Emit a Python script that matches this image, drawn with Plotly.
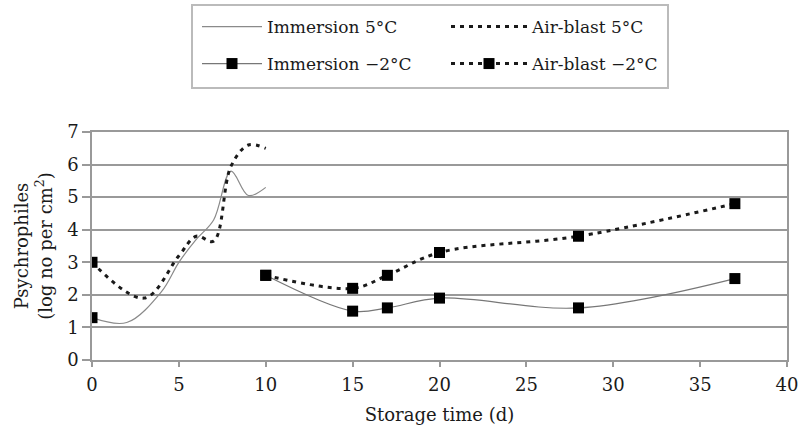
import plotly.graph_objects as go

# Data
days_warm = [0, 2, 4, 5, 6, 7, 8, 9, 10]
imm_5 = [1.3, 1.15, 2.1, 3.0, 3.7, 4.3, 5.8, 5.05, 5.3]

days_air_warm = [0, 3, 5, 6, 7, 8, 9, 10]
air_5 = [3.0, 1.9, 3.2, 3.8, 3.65, 5.95, 6.6, 6.5]

days_cold = [0, 5, 10, 15, 17, 20, 28, 37]
imm_m2 = [1.3, None, 2.6, 1.5, 1.6, 1.9, 1.6, 2.5]
air_m2 = [3.0, None, 2.6, 2.2, 2.6, 3.3, 3.8, 4.8]

x_ticks = [0, 5, 10, 15, 20, 25, 30, 35, 40]
y_ticks = [0, 1, 2, 3, 4, 5, 6, 7]

FONT = "DejaVu Serif"
FS = 18
LFS = 17
TXT = "#1a1a1a"

fig = go.Figure()

fig.add_trace(go.Scatter(
    x=days_warm, y=imm_5, mode="lines", name="Immersion 5°C",
    line=dict(color="#8a8a8a", width=1.2, shape="spline"),
    legend="legend",
))
fig.add_trace(go.Scatter(
    x=days_air_warm, y=air_5, mode="lines", name="Air-blast 5°C",
    line=dict(color="#1a1a1a", width=3, dash="4px,5px", shape="spline"),
    legend="legend2",
))
fig.add_trace(go.Scatter(
    x=days_cold, y=imm_m2, mode="lines+markers", name="Immersion \u22122°C",
    line=dict(color="#777777", width=1.2, shape="spline"),
    marker=dict(symbol="square", size=11, color="#000000"),
    legend="legend3",
))
fig.add_trace(go.Scatter(
    x=days_cold, y=air_m2, mode="lines+markers", name="Air-blast \u22122°C",
    line=dict(color="#1a1a1a", width=3, dash="4px,5px", shape="spline"),
    marker=dict(symbol="square", size=11, color="#000000"),
    legend="legend4",
))

PL, PW, PT, PH = 92, 695, 132, 228


def px_x(p):
    return (p - PL) / PW


def px_y(p):
    return (PT + PH - p) / PH


def leg(xpx, ypx, iw):
    return dict(
        orientation="h", xanchor="left", yanchor="middle",
        x=px_x(xpx), y=px_y(ypx),
        font=dict(family=FONT, size=LFS, color=TXT),
        bgcolor="rgba(0,0,0,0)", borderwidth=0,
        itemwidth=iw, itemclick=False, itemdoubleclick=False,
    )


fig.update_layout(
    width=811, height=432,
    margin=dict(l=PL, r=811 - PL - PW, t=PT, b=432 - PT - PH, autoexpand=False),
    paper_bgcolor="white", plot_bgcolor="white",
    font=dict(family=FONT, size=FS, color=TXT),
    showlegend=True,
    legend=leg(197, 27, 60),
    legend2=leg(446, 27, 76),
    legend3=leg(197, 64, 60),
    legend4=leg(446, 64, 76),
    shapes=[dict(type="rect", xref="paper", yref="paper",
                 x0=px_x(192), x1=px_x(668), y0=px_y(88), y1=px_y(5),
                 line=dict(color="#bbbbbb", width=2), fillcolor="rgba(0,0,0,0)",
                 layer="below")],
    xaxis=dict(
        range=[0, 40], tickvals=x_ticks, ticktext=[str(v) for v in x_ticks],
        showgrid=False, zeroline=False, automargin=False,
        showline=True, linecolor="#999", linewidth=1.5, mirror=True,
        ticks="outside", ticklen=5, tickcolor="#999", tickwidth=1.5,
        ticklabelstandoff=3,
        tickfont=dict(family=FONT, size=FS, color=TXT),
        title=dict(text="Storage time (d)", font=dict(family=FONT, size=FS, color=TXT), standoff=14),
    ),
    yaxis=dict(
        range=[0, 7], tickvals=y_ticks, ticktext=[str(v) for v in y_ticks],
        showgrid=True, gridcolor="#999", gridwidth=1.5, zeroline=False, automargin=False,
        showline=True, linecolor="#999", linewidth=1.5, mirror=True,
        ticks="outside", ticklen=8, tickcolor="#999", tickwidth=1.5,
        tickfont=dict(family=FONT, size=FS, color=TXT),
        title=dict(text="Psychrophiles<br>(log no per cm<sup>2</sup>)",
                   font=dict(family=FONT, size=FS, color=TXT), standoff=10),
    ),
)

fig.write_html(
    "out.html",
    config={"displayModeBar": False},
    post_script="document.body.style.margin='0';document.body.style.overflow='hidden';",
)
